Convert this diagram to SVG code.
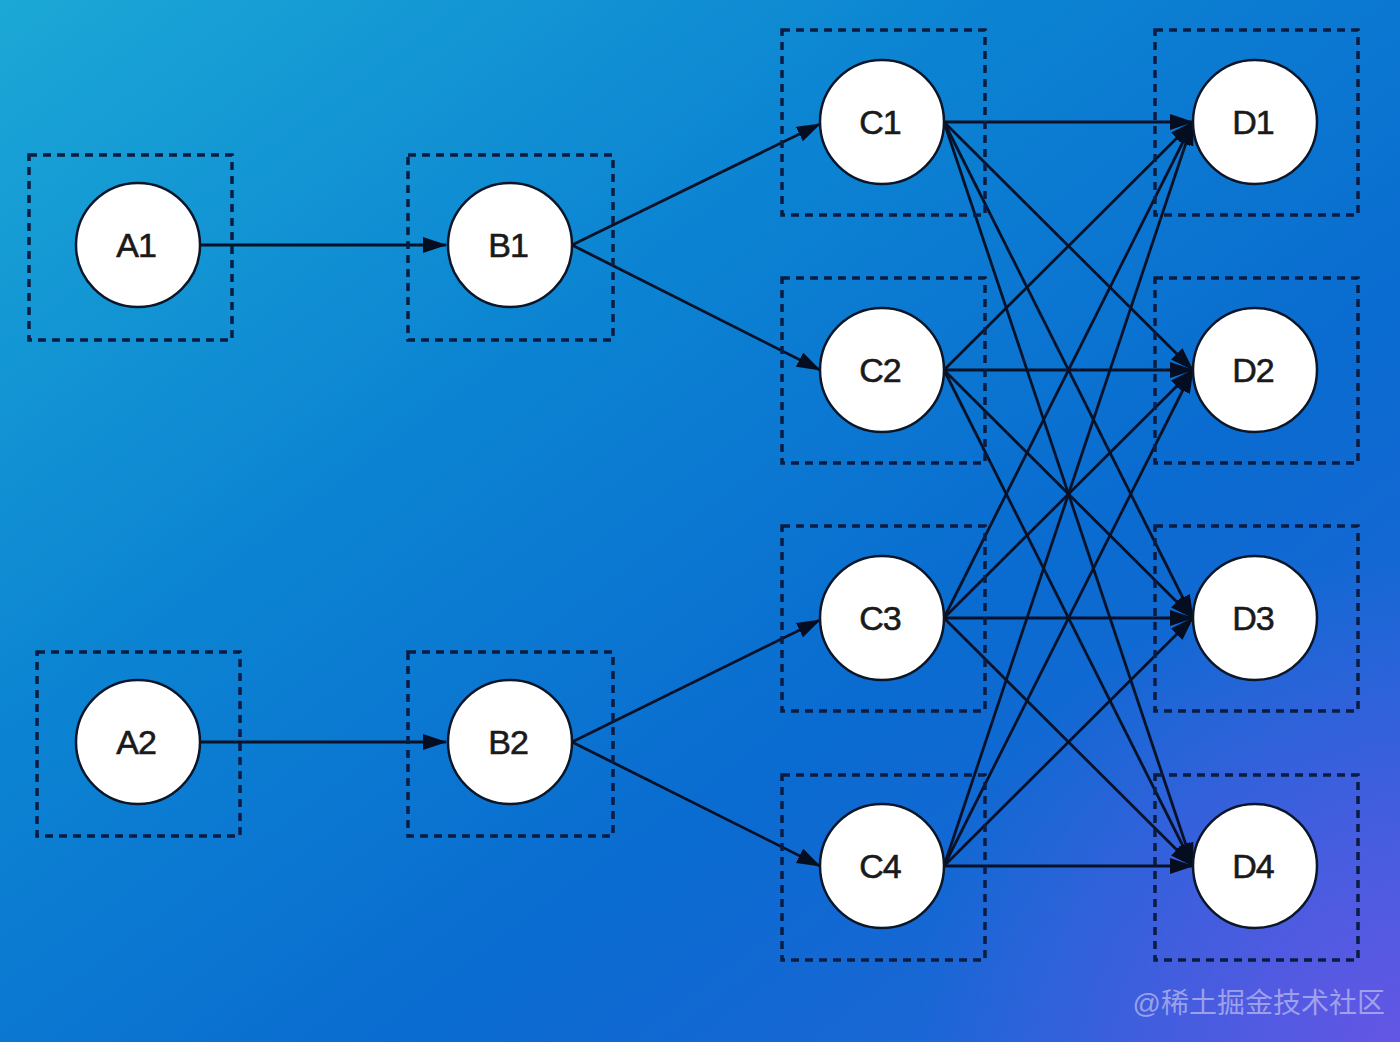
<svg xmlns="http://www.w3.org/2000/svg" width="1400" height="1042" viewBox="0 0 1400 1042">
<defs>
<linearGradient id="bg" x1="0" y1="0" x2="1" y2="1">
<stop offset="0" stop-color="#1ba8d6"/>
<stop offset="0.35" stop-color="#0c84d2"/>
<stop offset="0.65" stop-color="#0a6bd0"/>
<stop offset="1" stop-color="#2a62dc"/>
</linearGradient>
<radialGradient id="purp" cx="1400" cy="1042" r="480" gradientUnits="userSpaceOnUse">
<stop offset="0" stop-color="#6a55e6" stop-opacity="0.9"/>
<stop offset="1" stop-color="#6a55e6" stop-opacity="0"/>
</radialGradient>
<marker id="arr" viewBox="0 0 24 16" refX="23" refY="8" markerWidth="24" markerHeight="16" markerUnits="userSpaceOnUse" orient="auto">
<path d="M0,0 L24,8 L0,16 Z" fill="#050d20"/>
</marker>
<style>
.box{fill:none;stroke:#0a1c42;stroke-width:3.5;stroke-dasharray:8 6}
.node{fill:#ffffff;stroke:#0b1628;stroke-width:2.5}
.lbl{font-family:"Liberation Sans",Arial,sans-serif;font-size:34px;fill:#1a1a1a;stroke:#1a1a1a;stroke-width:0.6;letter-spacing:-1px;text-anchor:middle;dominant-baseline:central}
.edge{stroke:#071229;stroke-width:2.8;fill:none;marker-end:url(#arr)}
</style>
</defs>
<rect width="1400" height="1042" fill="url(#bg)"/>
<rect width="1400" height="1042" fill="url(#purp)"/>
<g id="connectors">
<line class="edge" x1="200" y1="245" x2="446" y2="245"/>
<line class="edge" x1="200" y1="742" x2="446" y2="742"/>
<line class="edge" x1="572" y1="245" x2="820" y2="124"/>
<line class="edge" x1="572" y1="245" x2="820" y2="370"/>
<line class="edge" x1="572" y1="742" x2="820" y2="620"/>
<line class="edge" x1="572" y1="742" x2="820" y2="866"/>
<line class="edge" x1="944" y1="122" x2="1193" y2="122"/>
<line class="edge" x1="944" y1="122" x2="1193" y2="370"/>
<line class="edge" x1="944" y1="122" x2="1193" y2="618"/>
<line class="edge" x1="944" y1="122" x2="1193" y2="866"/>
<line class="edge" x1="944" y1="370" x2="1193" y2="122"/>
<line class="edge" x1="944" y1="370" x2="1193" y2="370"/>
<line class="edge" x1="944" y1="370" x2="1193" y2="618"/>
<line class="edge" x1="944" y1="370" x2="1193" y2="866"/>
<line class="edge" x1="944" y1="618" x2="1193" y2="122"/>
<line class="edge" x1="944" y1="618" x2="1193" y2="370"/>
<line class="edge" x1="944" y1="618" x2="1193" y2="618"/>
<line class="edge" x1="944" y1="618" x2="1193" y2="866"/>
<line class="edge" x1="944" y1="866" x2="1193" y2="122"/>
<line class="edge" x1="944" y1="866" x2="1193" y2="370"/>
<line class="edge" x1="944" y1="866" x2="1193" y2="618"/>
<line class="edge" x1="944" y1="866" x2="1193" y2="866"/>
</g>
<g id="A1"><rect class="box" x="29" y="155" width="203" height="185"/><circle class="node" cx="138" cy="245" r="62"/><text class="lbl" x="136" y="245">A1</text></g>
<g id="B1"><rect class="box" x="408" y="155" width="205" height="185"/><circle class="node" cx="510" cy="245" r="62"/><text class="lbl" x="508" y="245">B1</text></g>
<g id="A2"><rect class="box" x="37" y="652" width="203" height="184"/><circle class="node" cx="138" cy="742" r="62"/><text class="lbl" x="136" y="742">A2</text></g>
<g id="B2"><rect class="box" x="408" y="652" width="205" height="184"/><circle class="node" cx="510" cy="742" r="62"/><text class="lbl" x="508" y="742">B2</text></g>
<g id="C1"><rect class="box" x="782" y="30" width="203" height="185"/><circle class="node" cx="882" cy="122" r="62"/><text class="lbl" x="880" y="122">C1</text></g>
<g id="C2"><rect class="box" x="782" y="278" width="203" height="185"/><circle class="node" cx="882" cy="370" r="62"/><text class="lbl" x="880" y="370">C2</text></g>
<g id="C3"><rect class="box" x="782" y="526" width="203" height="185"/><circle class="node" cx="882" cy="618" r="62"/><text class="lbl" x="880" y="618">C3</text></g>
<g id="C4"><rect class="box" x="782" y="775" width="203" height="185"/><circle class="node" cx="882" cy="866" r="62"/><text class="lbl" x="880" y="866">C4</text></g>
<g id="D1"><rect class="box" x="1155" y="30" width="203" height="185"/><circle class="node" cx="1255" cy="122" r="62"/><text class="lbl" x="1253" y="122">D1</text></g>
<g id="D2"><rect class="box" x="1155" y="278" width="203" height="185"/><circle class="node" cx="1255" cy="370" r="62"/><text class="lbl" x="1253" y="370">D2</text></g>
<g id="D3"><rect class="box" x="1155" y="526" width="203" height="185"/><circle class="node" cx="1255" cy="618" r="62"/><text class="lbl" x="1253" y="618">D3</text></g>
<g id="D4"><rect class="box" x="1155" y="775" width="203" height="185"/><circle class="node" cx="1255" cy="866" r="62"/><text class="lbl" x="1253" y="866">D4</text></g>
<text x="1385" y="1013" text-anchor="end" font-family="'Liberation Sans','Noto Sans CJK SC',sans-serif" font-size="28" fill="#b8b8ee" fill-opacity="0.75">@稀土掘金技术社区</text>
</svg>
